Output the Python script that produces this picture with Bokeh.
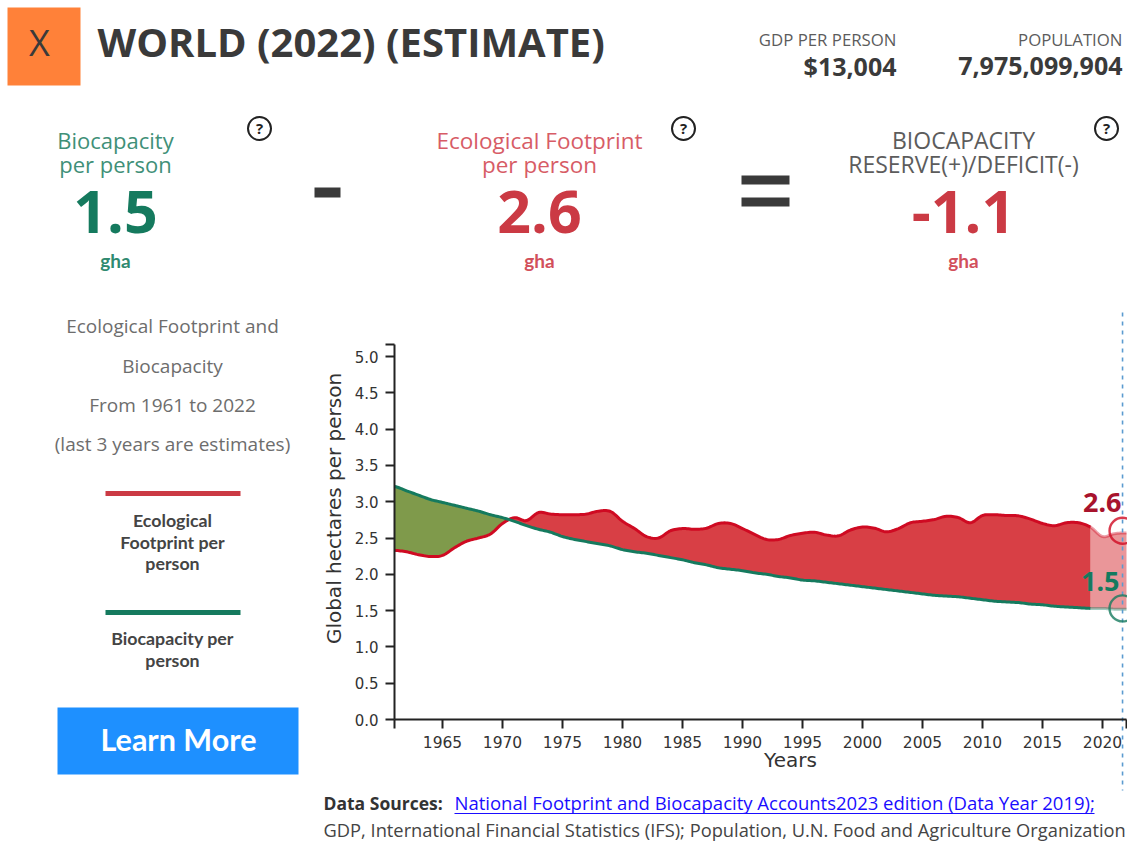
from bokeh.plotting import figure
from bokeh.models import LinearAxis, FixedTicker, Range1d
from bokeh.core.properties import value
from bokeh.embed import file_html
from bokeh.resources import INLINE
import numpy as np

# ---------- data ----------
years = list(range(1961, 2023))
footprint = [2.33,2.31,2.27,2.245,2.26,2.365,2.455,2.50,2.555,2.70,
             2.78,2.74,2.85,2.83,2.82,2.82,2.83,2.87,2.865,2.73,
             2.63,2.52,2.50,2.60,2.63,2.62,2.635,2.70,2.70,2.63,
             2.55,2.48,2.48,2.535,2.565,2.58,2.54,2.53,2.61,2.65,
             2.635,2.585,2.63,2.71,2.73,2.755,2.80,2.78,2.71,2.81,
             2.82,2.81,2.805,2.76,2.70,2.67,2.71,2.71,2.65,2.52,2.56,2.57]
biocapacity = [3.21,3.15,3.09,3.03,2.99,2.95,2.91,2.87,2.82,2.78,
               2.73,2.67,2.62,2.58,2.52,2.48,2.45,2.42,2.39,2.34,
               2.31,2.29,2.26,2.23,2.20,2.16,2.13,2.09,2.07,2.05,
               2.02,2.00,1.97,1.95,1.92,1.91,1.89,1.87,1.85,1.83,
               1.81,1.79,1.77,1.75,1.73,1.71,1.70,1.69,1.67,1.65,
               1.63,1.62,1.61,1.59,1.58,1.56,1.55,1.54,1.53,1.53,1.52,1.52]
last_real_year = 2019
hover_year = 2021.67
hover_values = [2.6, 1.53]
hover_labels = ["2.6", "1.5"]
x_ticks = [1961,1965,1970,1975,1980,1985,1990,1995,2000,2005,2010,2015,2020,2022]
y_ticks = [0.0,0.5,1.0,1.5,2.0,2.5,3.0,3.5,4.0,4.5,5.0]
y_top = 5.165

# ---------- colours ----------
RED_TXT, GRN_TXT, DARK, GREY = "#cb3a44", "#157a5e", "#3a3a3a", "#5c5c5c"
RED_LINE, GRN_LINE = "#cf0a22", "#157a5e"

# ---------- page pixel <-> data mapping ----------
PX_PER_YEAR, PX_PER_UNIT = 12.0, 72.6
X0_PX, Y0_PX = 394.0, 719.0
W, H = 1127, 841
def X(px): return 1961 + (px - X0_PX) / PX_PER_YEAR
def Y(py): return (Y0_PX - py) / PX_PER_UNIT

p = figure(width=W, height=H, output_backend="svg", toolbar_location=None,
           x_range=Range1d(X(0), X(W)), y_range=Range1d(Y(H), Y(0)),
           x_axis_location=None, y_axis_location=None, min_border=0)
p.outline_line_color = None
p.grid.visible = False
p.background_fill_color = "white"

def T(px, py, s, size, color=DARK, align="center", bold=False, font="Open Sans", angle=0):
    p.text([X(px)], [Y(py - 1.5)], text=[s], text_font=value(font), text_font_size=f"{size}px",
           text_color=color, text_align=align, text_baseline="middle",
           text_font_style="bold" if bold else "normal", angle=angle)

def smooth(x, y, n=8):
    """Catmull-Rom drawing path through the read values (the source draws a cardinal curve)."""
    x = np.asarray(x, float); y = np.asarray(y, float)
    py = np.r_[y[0], y, y[-1]]
    t = np.linspace(0, 1, n, endpoint=False)[:, None]
    h00 = 2*t**3 - 3*t**2 + 1; h10 = t**3 - 2*t**2 + t; h01 = -2*t**3 + 3*t**2; h11 = t**3 - t**2
    m = (py[2:] - py[:-2]) / 2
    xo = (x[:-1] + t * np.diff(x)).T.ravel()
    yo = (h00 * y[:-1] + h10 * m[:-1] + h01 * y[1:] + h11 * m[1:]).T.ravel()
    return np.r_[xo, x[-1]], np.r_[yo, y[-1]]

# ---------- fills ----------
xs, f2 = smooth(years, footprint)
_, b2 = smooth(years, biocapacity)
real = xs <= last_real_year
est = xs >= last_real_year
p.varea(xs[real], b2[real], np.maximum(f2, b2)[real], fill_color="#d83f45")
p.varea(xs[real], f2[real], np.maximum(f2, b2)[real], fill_color="#7f9a4b")
p.varea(xs[est], b2[est], f2[est], fill_color="#d83f45", fill_alpha=0.55)

# ---------- lines ----------
p.line(xs[real], f2[real], line_color=RED_LINE, line_width=3, line_join="round")
p.line(xs[real], b2[real], line_color=GRN_LINE, line_width=3, line_join="round")
p.line(xs[est], f2[est], line_color=RED_LINE, line_width=3, line_alpha=0.4)
p.line(xs[est], b2[est], line_color=GRN_LINE, line_width=3, line_alpha=0.4)

# ---------- axes ----------
xa = LinearAxis(fixed_location=0, bounds=(1961, 2022), ticker=FixedTicker(ticks=x_ticks),
                major_label_overrides={1961: "", 2022: ""})
ya = LinearAxis(fixed_location=1961, bounds=(0, y_top), ticker=FixedTicker(ticks=y_ticks + [y_top]),
                major_label_overrides={**{v: f"{v:.1f}" for v in y_ticks}, y_top: ""})
for a, sz, so in ((xa, "15.5px", 7), (ya, "15px", 7)):
    a.axis_line_color = "#222222"; a.axis_line_width = 2
    a.major_tick_line_color = "#222222"; a.major_tick_line_width = 2
    a.major_tick_in = 0; a.major_tick_out = 9; a.minor_tick_line_color = None
    a.major_label_text_font = "DejaVu Sans"; a.major_label_text_font_size = sz
    a.major_label_text_color = "#333333"; a.major_label_standoff = so
p.add_layout(xa, "below"); p.add_layout(ya, "left")
T(333, 509.5, "Global hectares per person", 20, "#333333", font="DejaVu Sans", angle=np.pi / 2)
T(790, 760.5, "Years", 20, "#333333", font="DejaVu Sans")

# ---------- hover guide ----------
p.line([hover_year, hover_year], [Y(312), Y(790)], line_color="#5b9bd0", line_width=1.6, line_dash="4 5")
p.scatter([hover_year], [hover_values[0]], size=26, fill_color=None, line_color=RED_LINE, line_width=2.4, line_alpha=0.8)
p.scatter([hover_year], [hover_values[1]], size=26, fill_color=None, line_color=GRN_LINE, line_width=2.4, line_alpha=0.8)
T(1121, 503.5, hover_labels[0], 27, "#a8132d", "right", True, font="Noto Sans")
T(1119, 582.5, hover_labels[1], 27, GRN_LINE, "right", True, font="Noto Sans")

# ---------- header ----------
p.quad(left=[X(7)], right=[X(80)], top=[Y(7)], bottom=[Y(85)], fill_color="#ff8139", line_color=None)
T(39, 43, "X", 36, DARK, font="Open Sans")
T(97, 42, "WORLD (2022) (ESTIMATE)", 40, DARK, "left", True)
T(896, 40, "GDP PER PERSON", 16.8, GREY, "right")
T(896, 66.5, "$13,004", 25, DARK, "right", True)
T(1122, 40, "POPULATION", 16.8, GREY, "right")
T(1122, 66.5, "7,975,099,904", 25, DARK, "right", True)

# ---------- equation row ----------
T(115, 141, "Biocapacity", 22, "#3f9078")
T(115, 165, "per person", 22, "#3f9078")
T(115, 213, "1.5", 59, GRN_TXT, bold=True)
T(115, 261, "gha", 19, "#2f8a70", bold=True, font="Lato")
T(539, 141, "Ecological Footprint", 22.5, "#d75c66")
T(539, 165, "per person", 22.5, "#d75c66")
T(539, 213, "2.6", 59, RED_TXT, bold=True)
T(539, 261, "gha", 19, "#d2505b", bold=True, font="Lato")
T(963, 141, "BIOCAPACITY", 23, GREY)
T(963, 165, "RESERVE(+)/DEFICIT(-)", 23, GREY)
T(963, 213, "-1.1", 59, RED_TXT, bold=True)
T(963, 261, "gha", 19, "#d2505b", bold=True, font="Lato")
p.quad(left=[X(314)], right=[X(340)], top=[Y(187)], bottom=[Y(197)], fill_color=DARK, line_color=None)
p.quad(left=[X(741), X(741)], right=[X(789), X(789)], top=[Y(175), Y(197)], bottom=[Y(184), Y(206)], fill_color=DARK, line_color=None)
for cx in (259, 683, 1106):
    p.scatter([X(cx)], [Y(128)], size=23, fill_color=None, line_color="#222222", line_width=2)
    T(cx, 129, "?", 15, "#222222", bold=True)

# ---------- left column ----------
for py, s in ((327, "Ecological Footprint and"), (367, "Biocapacity"), (406, "From 1961 to 2022"), (445, "(last 3 years are estimates)")):
    T(172, py, s, 19, "#6d6d6d")
p.line([X(105), X(240)], [Y(493), Y(493)], line_color=RED_TXT, line_width=5)
p.line([X(105), X(240)], [Y(612), Y(612)], line_color=GRN_TXT, line_width=5)
for py, s in ((521, "Ecological"), (543, "Footprint per"), (564, "person"), (639, "Biocapacity per"), (661, "person")):
    T(172, py, s, 17.8, "#444444", bold=True, font="Lato")
p.quad(left=[X(57)], right=[X(298)], top=[Y(707)], bottom=[Y(774)], fill_color="#1e90ff", line_color=None)
T(178, 740, "Learn More", 30.5, "white", bold=True, font="Lato")

# ---------- sources ----------
T(323, 803.5, "Data Sources:", 17.5, "#333333", "left", True, font="Open Sans")
T(454, 803.5, "National Footprint and Biocapacity Accounts2023 edition (Data Year 2019);", 18.5, "#1a0dff", "left")
p.line([X(454), X(1094)], [Y(813), Y(813)], line_color="#1a0dff", line_width=1)
T(323, 830.5, "GDP, International Financial Statistics (IFS); Population, U.N. Food and Agriculture Organization", 18.3, "#444444", "left")

open("out.html", "w").write(file_html(p, INLINE))
